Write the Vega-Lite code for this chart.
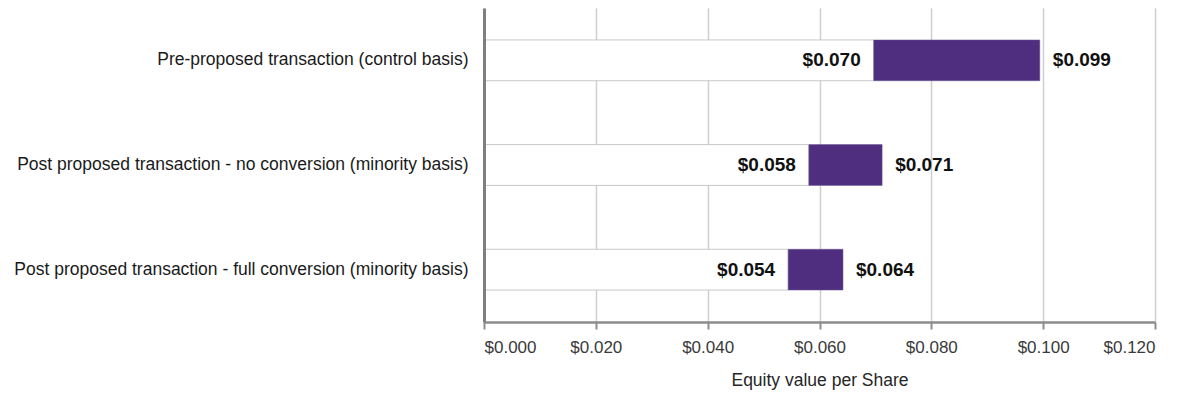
{
  "$schema": "https://vega.github.io/schema/vega-lite/v6.json",
  "width": 671,
  "height": 314,
  "autosize": {"type": "none"},
  "padding": {"left": 484, "top": 8, "right": 35, "bottom": 76},
  "background": "white",
  "config": {
    "view": {"stroke": null},
    "font": "Liberation Sans"
  },
  "data": {
    "values": [
      {"scenario": "Pre-proposed transaction (control basis)", "low": 0.0697, "high": 0.0994},
      {"scenario": "Post proposed transaction - no conversion (minority basis)", "low": 0.0581, "high": 0.0712},
      {"scenario": "Post proposed transaction - full conversion (minority basis)", "low": 0.0544, "high": 0.0642}
    ]
  },
  "encoding": {
    "y": {
      "field": "scenario",
      "type": "nominal",
      "sort": null,
      "title": null,
      "scale": {"paddingInner": 0.61, "paddingOuter": 0.305},
      "axis": {
        "zindex": 1,
        "domainColor": "#7f7f7f",
        "domainWidth": 3,
        "ticks": false,
        "labelFontSize": 17.5,
        "labelColor": "#1a1a1a",
        "labelPadding": 16,
        "labelLimit": 0,
        "grid": false
      }
    }
  },
  "layer": [
    {
      "mark": {"type": "bar", "fill": "white", "stroke": "#c8c8c8", "strokeWidth": 1},
      "encoding": {
        "x": {
          "field": "low",
          "type": "quantitative",
          "scale": {"domain": [0, 0.12], "nice": false},
          "title": "Equity value per Share",
          "axis": {
            "values": [0, 0.02, 0.04, 0.06, 0.08, 0.1, 0.12],
            "format": "$.3f",
            "grid": true,
            "gridColor": "#cfcfcf",
            "gridWidth": 1.5,
            "domainColor": "#8c8c8c",
            "domainWidth": 2.5,
            "tickColor": "#8c8c8c",
            "tickWidth": 2,
            "tickSize": 7,
            "labelFontSize": 17,
            "labelColor": "#3a3a3a",
            "labelPadding": 10,
            "titleFontSize": 17.5,
            "titleFontWeight": "normal",
            "titleColor": "#262626",
            "titlePadding": 16
          }
        },
        "x2": {"datum": 0}
      }
    },
    {
      "mark": {"type": "bar", "fill": "#4f2d7f", "stroke": "#6a5a8f", "strokeWidth": 0.5},
      "encoding": {
        "x": {"field": "low", "type": "quantitative"},
        "x2": {"field": "high"}
      }
    },
    {
      "mark": {"type": "text", "align": "right", "dx": -13, "fontSize": 19, "fontWeight": "bold", "color": "#111111"},
      "encoding": {
        "x": {"field": "low", "type": "quantitative"},
        "text": {"field": "low", "type": "quantitative", "format": "$.3f"}
      }
    },
    {
      "mark": {"type": "text", "align": "left", "dx": 13, "fontSize": 19, "fontWeight": "bold", "color": "#111111"},
      "encoding": {
        "x": {"field": "high", "type": "quantitative"},
        "text": {"field": "high", "type": "quantitative", "format": "$.3f"}
      }
    }
  ]
}
